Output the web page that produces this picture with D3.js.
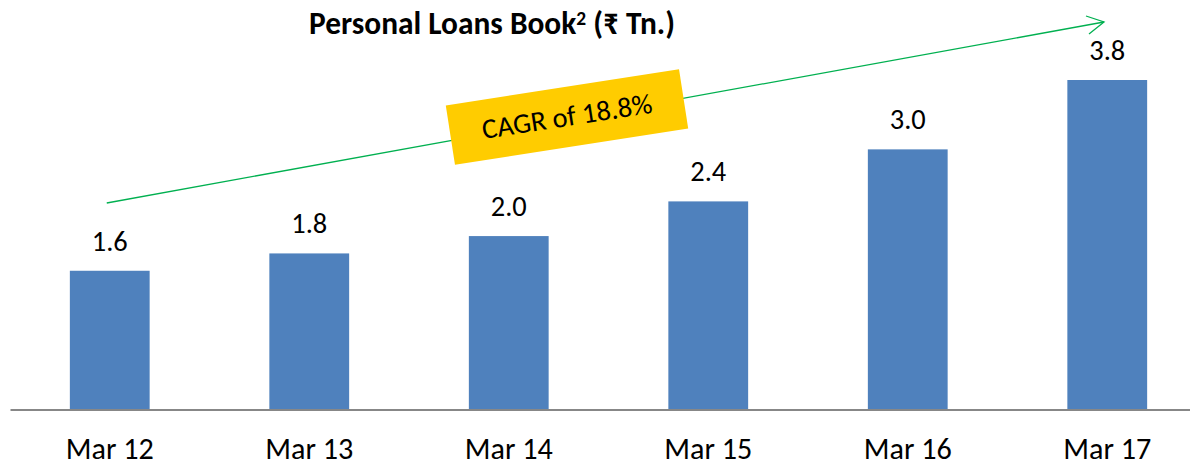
<!DOCTYPE html>
<html><head><meta charset="utf-8">
<script src="https://cdn.jsdelivr.net/npm/d3@7"></script>
<style>body{margin:0;background:#fff}svg{display:block}</style>
</head><body>
<script>
const categories = ["Mar 12","Mar 13","Mar 14","Mar 15","Mar 16","Mar 17"];
const values = [1.6, 1.8, 2.0, 2.4, 3.0, 3.8];
const valueLabels = ["1.6","1.8","2.0","2.4","3.0","3.8"];
const title = "Personal Loans Book";
const cagrLabel = "CAGR of 18.8%";

const W = 1190, H = 463;
const font = "Carlito, Lato, 'Open Sans', 'Noto Sans', sans-serif";
const svg = d3.select("body").append("svg").attr("width", W).attr("height", H);

// fit font size so that a text node reaches a target width
function fit(sel, target) {
  sel.each(function() {
    const el = d3.select(this);
    const fs = parseFloat(el.attr("font-size"));
    const w = this.getComputedTextLength();
    if (w > 0) el.attr("font-size", (fs * target / w).toFixed(2));
  });
}

const x = d3.scaleBand().domain(categories).range([10, 1207]).paddingInner(0.6).paddingOuter(0.3);
const y = d3.scaleLinear().domain([0, 3.8]).range([409.5, 80]);

// bars
svg.selectAll("rect.bar").data(values).join("rect")
  .attr("class","bar")
  .attr("x",(d,i)=>x(categories[i]))
  .attr("width",x.bandwidth())
  .attr("y",d=>y(d))
  .attr("height",d=>y(0)-y(d))
  .attr("fill","#4F81BD");

// baseline axis
const axis = d3.axisBottom(x).tickSize(0).tickPadding(0);
const gAx = svg.append("g").attr("transform",`translate(0,${y(0)})`).call(axis);
gAx.select(".domain").attr("stroke","#878787").attr("stroke-width",2);
const tickTexts = gAx.selectAll(".tick text").attr("font-family",font).attr("font-size",27).attr("fill","#000")
  .attr("dy",0).attr("y",49.5);
const refTick = tickTexts.filter((d,i)=>i===0);
let w0 = refTick.node().getComputedTextLength();
tickTexts.attr("font-size", (27*88/w0).toFixed(2));

// value labels
const vals = svg.selectAll("text.val").data(values).join("text")
  .attr("class","val")
  .attr("x",(d,i)=>x(categories[i])+x.bandwidth()/2)
  .attr("y",d=>y(d)-20)
  .attr("text-anchor","middle")
  .attr("font-family",font).attr("font-size",27).attr("fill","#000")
  .text((d,i)=>valueLabels[i]);
let w1 = vals.node().getComputedTextLength();
vals.attr("font-size", (27*36/w1).toFixed(2));

// title
const t = svg.append("text").attr("x",492).attr("y",34).attr("text-anchor","middle")
  .attr("font-family",font).attr("font-size",23).attr("font-weight","bold").attr("fill","#000");
t.append("tspan").text(title);
t.append("tspan").attr("class","sup").attr("font-size","0.62em").attr("dy","-0.45em").text("2");
t.append("tspan").attr("class","rest").attr("dy","0.28em").text(" (\u20B9 Tn.)");
fit(t, 366);

// CAGR arrow
const p0 = [x(categories[0])+x.bandwidth()/2-3, 203];
const p1 = [1104, 22];
svg.append("line").attr("x1",p0[0]).attr("y1",p0[1]).attr("x2",p1[0]).attr("y2",p1[1])
  .attr("stroke","#00B050").attr("stroke-width",1.3);
svg.append("path").attr("d",`M1086,16 L${p1[0]},${p1[1]} L1089,34`)
  .attr("fill","none").attr("stroke","#00B050").attr("stroke-width",1.3);

// CAGR box
const gb = svg.append("g").attr("transform","translate(567,117) rotate(-8.8)");
gb.append("rect").attr("x",-118).attr("y",-30).attr("width",236).attr("height",60).attr("fill","#FFCC00");
const ct = gb.append("text").attr("x",0).attr("y",9).attr("text-anchor","middle")
  .attr("font-family",font).attr("font-size",25).attr("fill","#000").text(cagrLabel);
fit(ct, 172);
</script>
</body></html>
